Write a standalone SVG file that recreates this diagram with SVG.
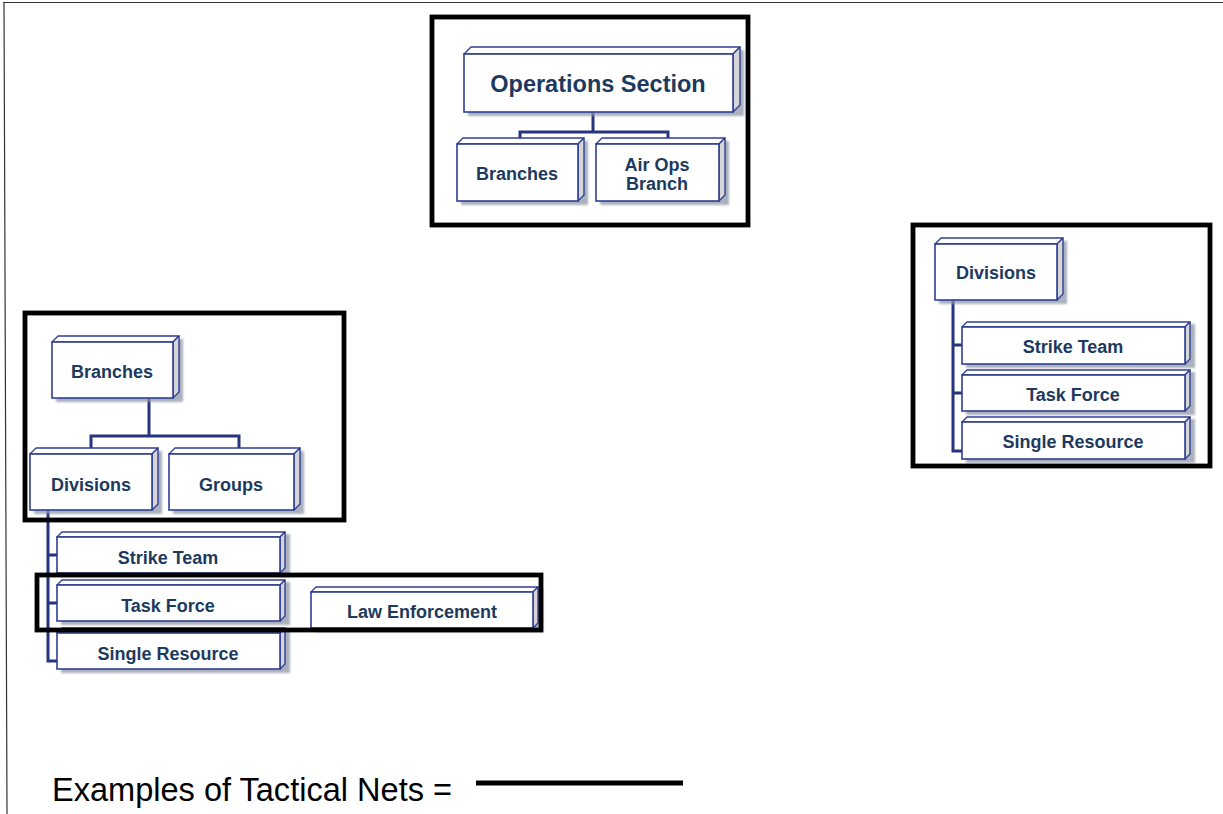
<svg xmlns="http://www.w3.org/2000/svg" width="1223" height="814" viewBox="0 0 1223 814">
  <defs>
    <filter id="soft" x="-10%" y="-10%" width="130%" height="140%">
      <feGaussianBlur stdDeviation="1.2"/>
    </filter>
    <style>
      .front { fill: #ffffff; stroke: #2f3f94; stroke-width: 1.6; }
      .top { fill: #ffffff; stroke: #2f3f94; stroke-width: 1.4; stroke-linejoin: round; }
      .side { fill: #d6d6d8; stroke: #2f3f94; stroke-width: 1.4; stroke-linejoin: round; }
      .shadow { fill: #8f96a8; opacity: 0.75; filter: url(#soft); }
      .lbl { font-family: "Liberation Sans", Arial, sans-serif; font-weight: bold; fill: #1d3a5e; text-anchor: middle; font-size: 18px; }
      .wire { fill: none; stroke: #26337f; stroke-width: 3; }
      .net { fill: none; stroke: #000000; stroke-width: 4.8; }
      .page { fill: none; stroke: #333333; stroke-width: 1.2; }
    </style>
  </defs>

  <rect x="0" y="0" width="1223" height="814" fill="#ffffff"/>
  <!-- page border -->
  <path class="page" d="M3 2.5 H1223 M4 2.5 L7 814"/>

  <!-- connectors -->
  <g id="connectors">
    <path class="wire" d="M593 112 V132 M520 139 V132 H668 V139"/>
    <path class="wire" d="M149 398 V436 M91 448 V436 H239 V448"/>
    <path class="wire" d="M48 510 V661 H57 M48 555 H57 M48 603 H57"/>
    <path class="wire" d="M953 300 V451 H962 M953 345 H962 M953 393 H962"/>
  </g>

  <!-- Operations group -->
  <g id="ops-section">
    <rect class="shadow" x="468" y="50" width="276" height="66"/>
    <polygon class="top" points="464,54 471,47 740,47 733,54"/>
    <polygon class="side" points="733,54 740,47 740,105 733,112"/>
    <rect class="front" x="464" y="54" width="269" height="58"/>
    <text class="lbl" x="598" y="91.5" style="font-size:23.5px">Operations Section</text>
  </g>
  <g id="ops-branches">
    <rect class="shadow" x="461" y="141" width="127" height="64"/>
    <polygon class="top" points="457,144 463,138 584,138 578,144"/>
    <polygon class="side" points="578,144 584,138 584,195 578,201"/>
    <rect class="front" x="457" y="144" width="121" height="57"/>
    <text class="lbl" x="517" y="179.5">Branches</text>
  </g>
  <g id="ops-airops">
    <rect class="shadow" x="600" y="141" width="129" height="64"/>
    <polygon class="top" points="596,144 602,138 725,138 719,144"/>
    <polygon class="side" points="719,144 725,138 725,195 719,201"/>
    <rect class="front" x="596" y="144" width="123" height="57"/>
    <text class="lbl" x="657" y="171">Air Ops</text>
    <text class="lbl" x="657" y="190">Branch</text>
  </g>

  <!-- Branch group (left) -->
  <g id="left-branches">
    <rect class="shadow" x="56" y="339" width="127" height="63"/>
    <polygon class="top" points="52,342 58,336 179,336 173,342"/>
    <polygon class="side" points="173,342 179,336 179,392 173,398"/>
    <rect class="front" x="52" y="342" width="121" height="56"/>
    <text class="lbl" x="112" y="377.5">Branches</text>
  </g>
  <g id="left-divisions">
    <rect class="shadow" x="34" y="451" width="128" height="63"/>
    <polygon class="top" points="30,454 36,448 158,448 152,454"/>
    <polygon class="side" points="152,454 158,448 158,504 152,510"/>
    <rect class="front" x="30" y="454" width="122" height="56"/>
    <text class="lbl" x="91" y="490.5">Divisions</text>
  </g>
  <g id="left-groups">
    <rect class="shadow" x="173" y="451" width="131" height="63"/>
    <polygon class="top" points="169,454 175,448 300,448 294,454"/>
    <polygon class="side" points="294,454 300,448 300,504 294,510"/>
    <rect class="front" x="169" y="454" width="125" height="56"/>
    <text class="lbl" x="231" y="490.5">Groups</text>
  </g>
  <g id="left-strike-team">
    <rect class="shadow" x="61" y="534" width="229" height="43"/>
    <polygon class="top" points="57,537 62,532 285,532 280,537"/>
    <polygon class="side" points="280,537 285,532 285,568 280,573"/>
    <rect class="front" x="57" y="537" width="223" height="36"/>
    <text class="lbl" x="168" y="563.5">Strike Team</text>
  </g>
  <g id="left-task-force">
    <rect class="shadow" x="61" y="582" width="229" height="43"/>
    <polygon class="top" points="57,585 62,580 285,580 280,585"/>
    <polygon class="side" points="280,585 285,580 285,616 280,621"/>
    <rect class="front" x="57" y="585" width="223" height="36"/>
    <text class="lbl" x="168" y="611.5">Task Force</text>
  </g>
  <g id="left-single-resource">
    <rect class="shadow" x="61" y="630" width="229" height="43"/>
    <polygon class="top" points="57,633 62,628 285,628 280,633"/>
    <polygon class="side" points="280,633 285,628 285,664 280,669"/>
    <rect class="front" x="57" y="633" width="223" height="36"/>
    <text class="lbl" x="168" y="659.5">Single Resource</text>
  </g>
  <g id="law-enforcement">
    <rect class="shadow" x="315" y="589" width="228" height="43"/>
    <polygon class="top" points="311,592 316,587 538,587 533,592"/>
    <polygon class="side" points="533,592 538,587 538,623 533,628"/>
    <rect class="front" x="311" y="592" width="222" height="36"/>
    <text class="lbl" x="422" y="617.5">Law Enforcement</text>
  </g>

  <!-- Division group (right) -->
  <g id="right-divisions">
    <rect class="shadow" x="939" y="241" width="128" height="63"/>
    <polygon class="top" points="935,244 941,238 1063,238 1057,244"/>
    <polygon class="side" points="1057,244 1063,238 1063,294 1057,300"/>
    <rect class="front" x="935" y="244" width="122" height="56"/>
    <text class="lbl" x="996" y="278.5">Divisions</text>
  </g>
  <g id="right-strike-team">
    <rect class="shadow" x="966" y="324" width="229" height="44"/>
    <polygon class="top" points="962,327 967,322 1190,322 1185,327"/>
    <polygon class="side" points="1185,327 1190,322 1190,359 1185,364"/>
    <rect class="front" x="962" y="327" width="223" height="37"/>
    <text class="lbl" x="1073" y="352.5">Strike Team</text>
  </g>
  <g id="right-task-force">
    <rect class="shadow" x="966" y="372" width="229" height="43"/>
    <polygon class="top" points="962,375 967,370 1190,370 1185,375"/>
    <polygon class="side" points="1185,375 1190,370 1190,406 1185,411"/>
    <rect class="front" x="962" y="375" width="223" height="36"/>
    <text class="lbl" x="1073" y="400.5">Task Force</text>
  </g>
  <g id="right-single-resource">
    <rect class="shadow" x="966" y="419" width="229" height="44"/>
    <polygon class="top" points="962,422 967,417 1190,417 1185,422"/>
    <polygon class="side" points="1185,422 1190,417 1190,454 1185,459"/>
    <rect class="front" x="962" y="422" width="223" height="37"/>
    <text class="lbl" x="1073" y="447.5">Single Resource</text>
  </g>

  <!-- tactical net outlines -->
  <g id="tactical-nets">
    <rect class="net" x="432" y="17" width="316" height="208"/>
    <rect class="net" x="25" y="313" width="319" height="207"/>
    <rect class="net" x="37" y="575" width="504" height="55"/>
    <rect class="net" x="913" y="225" width="297" height="241"/>
  </g>

  <!-- legend -->
  <g id="legend">
    <text x="52" y="801" font-family="Liberation Sans, Arial, sans-serif" font-size="34" fill="#000000" textLength="400" lengthAdjust="spacingAndGlyphs">Examples of Tactical Nets =</text>
    <line x1="476" y1="783" x2="683" y2="783" stroke="#000000" stroke-width="5"/>
  </g>
</svg>
